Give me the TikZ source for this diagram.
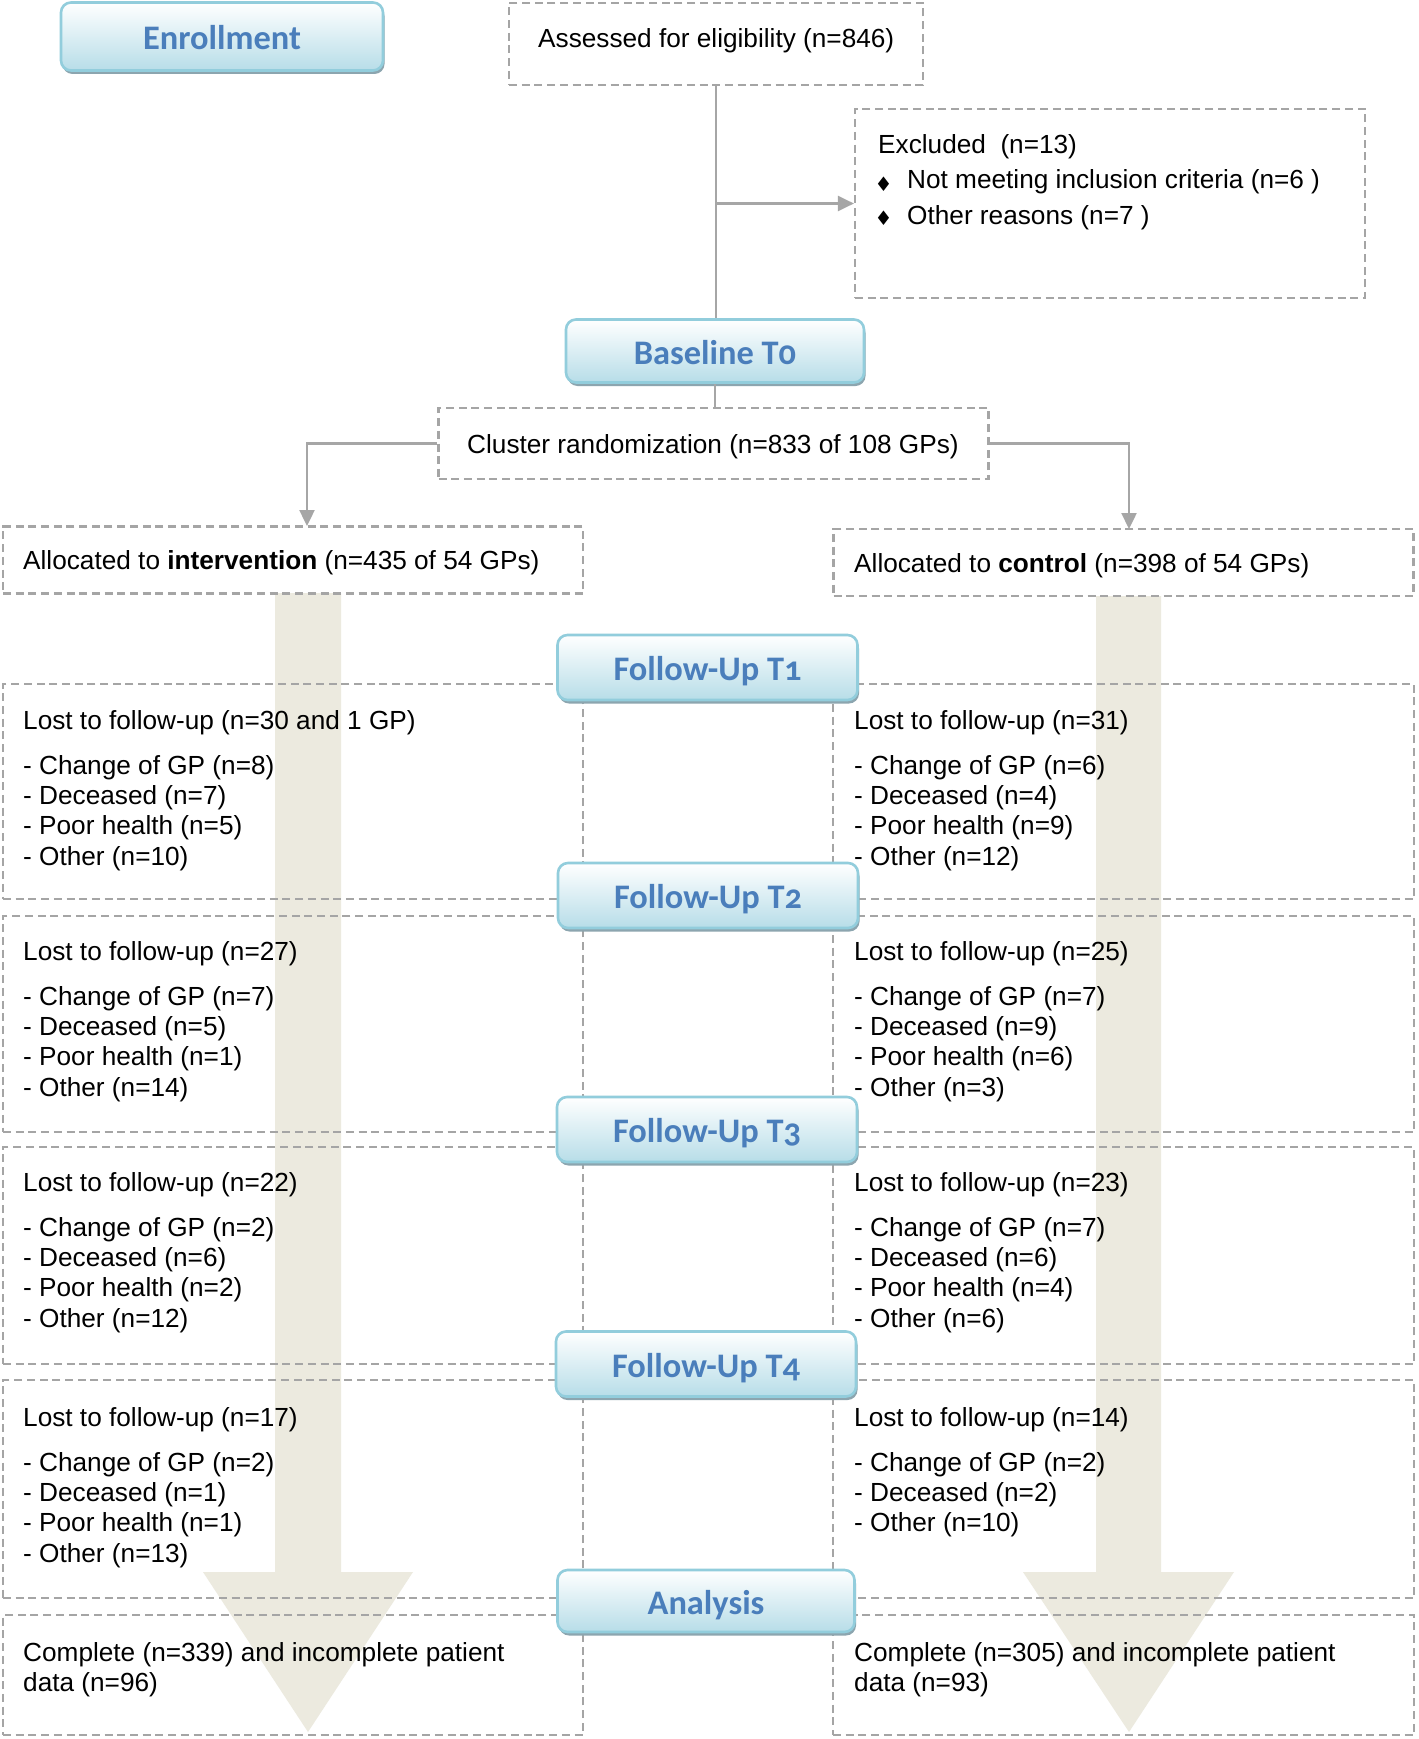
\documentclass[tikz,border=0pt]{standalone}
\usepackage{fontspec}
\setmainfont{Liberation Sans}
\newfontfamily\titlefont[Numbers=OldStyle]{Carlito}
\newfontfamily\symfont{DejaVu Sans}
\usetikzlibrary{arrows.meta,shadows,calc}
\definecolor{dashgray}{RGB}{165,165,165}
\definecolor{linegray}{RGB}{166,166,166}
\definecolor{beige}{RGB}{236,234,223}
\definecolor{fublue}{RGB}{74,126,187}
\definecolor{fuborder}{RGB}{146,205,220}
\definecolor{fubot}{RGB}{183,221,232}
\definecolor{fushadow}{RGB}{140,165,175}
\newcommand{\hd}[1]{\hbox{#1}\vskip15pt}
\newcommand{\itemline}[1]{\hbox{#1}}
\begin{document}
\begin{tikzpicture}[x=1pt,y=-1pt,
  dbox/.style={draw=dashgray, line width=2.2pt, dash pattern=on 8pt off 4.7pt, inner sep=0pt},
  sz/.style 2 args={minimum width=#1pt, minimum height=#2pt},
  txt/.style={anchor=base west, inner sep=0pt, font=\fontsize{26.2}{30.3}\selectfont},
  bul/.style={inner sep=0pt, font=\symfont\fontsize{20}{20}\selectfont},
  fubox/.style={rounded corners=10pt, draw=fuborder, line width=2.6pt, top color=white, bottom color=fubot, inner sep=0pt, text height=26pt, text depth=0pt, font=\titlefont\bfseries\fontsize{34.4}{40}\selectfont, text=fublue, general shadow={fill=fushadow, shadow xshift=1.5pt, shadow yshift=-3.5pt}},
  conn/.style={draw=linegray, line width=2.4pt},
  thinline/.style={draw=linegray, line width=1.8pt},
  arr/.style={conn, -{Triangle[length=16pt,width=15pt]}},
  bigarrow/.style={fill=beige, draw=none}]
\fill[white] (0,0) rectangle (1418,1739);
\useasboundingbox (0,0) rectangle (1418,1739);
% big background arrows
\fill[bigarrow] (275,593) -- (341,593) -- (341,1572) -- (413,1572) -- (308,1732) -- (203,1572) -- (275,1572) -- cycle;
\fill[bigarrow] (1096,596) -- (1161,596) -- (1161,1572) -- (1234,1572) -- (1129,1732) -- (1023,1572) -- (1096,1572) -- cycle;
% dashed boxes
\node[dbox, sz={414}{82}] (ass) at (716,44) {};
\node[dbox, sz={510}{189}] (excl) at (1110,203.5) {};
\node[dbox, sz={550}{71}] (clu) at (713.5,443.5) {};
\node[dbox, sz={580}{67}] (int) at (293,560) {};
\node[dbox, sz={580}{67}] (con) at (1123.5,562.5) {};
\node[dbox, sz={580}{215}] (s1l) at (293,791.5) {};
\node[dbox, sz={581}{215}] (s1r) at (1123.5,791.5) {};
\node[dbox, sz={580}{216}] (s2l) at (293,1024) {};
\node[dbox, sz={581}{216}] (s2r) at (1123.5,1024) {};
\node[dbox, sz={580}{217}] (s3l) at (293,1255.5) {};
\node[dbox, sz={581}{217}] (s3r) at (1123.5,1255.5) {};
\node[dbox, sz={580}{218}] (s4l) at (293,1489) {};
\node[dbox, sz={581}{218}] (s4r) at (1123.5,1489) {};
\node[dbox, sz={580}{120}] (s5l) at (293,1675) {};
\node[dbox, sz={581}{120}] (s5r) at (1123.5,1675) {};
% texts
\node[txt] (asst) at (538,48) {Assessed for eligibility (n=846)};
\node[txt] (exh) at (878,154) {Excluded\ \ (n=13)};
\node[bul] (b1) at (883.5,184) {♦};
\node[bul] (b2) at (883.5,218) {♦};
\node[txt] (ex1) at (907,189) {Not meeting inclusion criteria (n=6 )};
\node[txt] (ex2) at (907,224) {Other reasons (n=7 )};
\node[txt] (clut) at (467,453) {Cluster randomization (n=833 of 108 GPs)};
\node[txt] (intt) at (23,569) {Allocated to \textbf{intervention} (n=435 of 54 GPs)};
\node[txt] (cont) at (854,572) {Allocated to \textbf{control} (n=398 of 54 GPs)};
\node[txt] (t1l) at (23,729) {\vtop{\hd{Lost to follow-up (n=30 and 1 GP)}\itemline{- Change of GP (n=8)}\itemline{- Deceased (n=7)}\itemline{- Poor health (n=5)}\itemline{- Other (n=10)}}};
\node[txt] (t1r) at (854,729) {\vtop{\hd{Lost to follow-up (n=31)}\itemline{- Change of GP (n=6)}\itemline{- Deceased (n=4)}\itemline{- Poor health (n=9)}\itemline{- Other (n=12)}}};
\node[txt] (t2l) at (23,960) {\vtop{\hd{Lost to follow-up (n=27)}\itemline{- Change of GP (n=7)}\itemline{- Deceased (n=5)}\itemline{- Poor health (n=1)}\itemline{- Other (n=14)}}};
\node[txt] (t2r) at (854,960) {\vtop{\hd{Lost to follow-up (n=25)}\itemline{- Change of GP (n=7)}\itemline{- Deceased (n=9)}\itemline{- Poor health (n=6)}\itemline{- Other (n=3)}}};
\node[txt] (t3l) at (23,1191) {\vtop{\hd{Lost to follow-up (n=22)}\itemline{- Change of GP (n=2)}\itemline{- Deceased (n=6)}\itemline{- Poor health (n=2)}\itemline{- Other (n=12)}}};
\node[txt] (t3r) at (854,1191) {\vtop{\hd{Lost to follow-up (n=23)}\itemline{- Change of GP (n=7)}\itemline{- Deceased (n=6)}\itemline{- Poor health (n=4)}\itemline{- Other (n=6)}}};
\node[txt] (t4l) at (23,1426) {\vtop{\hd{Lost to follow-up (n=17)}\itemline{- Change of GP (n=2)}\itemline{- Deceased (n=1)}\itemline{- Poor health (n=1)}\itemline{- Other (n=13)}}};
\node[txt] (t4r) at (854,1426) {\vtop{\hd{Lost to follow-up (n=14)}\itemline{- Change of GP (n=2)}\itemline{- Deceased (n=2)}\itemline{- Other (n=10)}}};
\node[txt] (t5l) at (23,1661) {\vtop{\itemline{Complete (n=339) and incomplete patient}\itemline{data (n=96)}}};
\node[txt] (t5r) at (854,1661) {\vtop{\itemline{Complete (n=305) and incomplete patient}\itemline{data (n=93)}}};
% title boxes
\node[fubox, sz={322}{68}] (enr) at (222,36.5) {Enrollment};
\node[fubox, sz={298}{63}] (base) at (715,351) {Baseline T0};
\node[fubox, sz={300}{65}] (fu1) at (707.5,667.5) {Follow-Up T1};
\node[fubox, sz={300}{65}] (fu2) at (708,895.5) {Follow-Up T2};
\node[fubox, sz={300}{65}] (fu3) at (707,1129.5) {Follow-Up T3};
\node[fubox, sz={300}{65}] (fu4) at (706,1364) {Follow-Up T4};
\node[fubox, sz={297}{62}] (ana) at (706,1601) {Analysis};
% connectors
\draw[thinline] (ass.south) -- (ass.south |- base.north);
\coordinate (j1) at (ass.south |- excl.west);
\draw[arr] (j1) -- (excl.west);
\draw[thinline] (base.south) -- (base.south |- clu.north);
\coordinate (ia) at (307,526);
\coordinate (ca) at (1129,529);
\draw[arr] (clu.west) -| (ia);
\draw[arr] (clu.east) -| (ca);
\end{tikzpicture}
\end{document}
